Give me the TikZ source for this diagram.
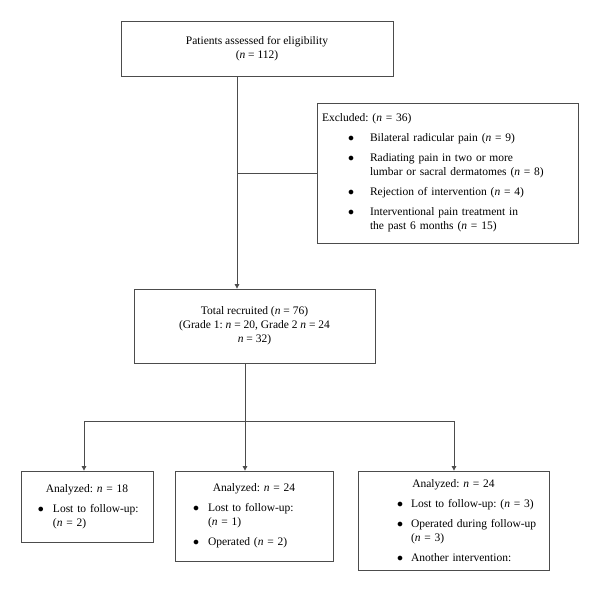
\documentclass[tikz,border=0pt]{standalone}
\usepackage{fontspec}
\setmainfont{Liberation Serif}
\usetikzlibrary{arrows.meta,positioning}

\newcommand{\nn}{\textit{n}}
\newlength{\bulin}
\newlength{\bulgap}
\newcommand{\bul}[1]{\par\vspace{6pt}\noindent\hangindent=\bulin\hangafter=0\llap{$\bullet$\hspace{\bulgap}}#1\par}

\begin{document}
\frenchspacing
\begin{tikzpicture}[x=1pt,y=-1pt,>={Triangle[length=4.5pt,width=4.5pt]},
    font=\fontsize{11.5}{14}\selectfont,
    conn/.style={draw=black!70,line width=0.8pt},
    box/.style={draw=black!70,line width=0.8pt,rectangle,inner xsep=0pt,inner ysep=0pt},
    listbox/.style={box,align=left}]
    \fill[white] (0,0) rectangle (600,592);
    \useasboundingbox (0,0) rectangle (600,592);
    % boxes
    \node[box,minimum width=272pt,minimum height=55pt,align=center] (assess) at (257,49)
        {Patients assessed for eligibility\\(\nn{} = 112)};
    \node[listbox,text width=261pt,minimum height=140pt] (excl) at (447.5,173)
        {\setlength{\bulin}{53pt}\setlength{\bulgap}{16pt}%
         \hspace*{5pt}Excluded: (\nn{} = 36)
         \bul{Bilateral radicular pain (\nn{} = 9)}
         \bul{Radiating pain in two or more\break lumbar or sacral dermatomes (\nn{} = 8)}
         \bul{Rejection of intervention (\nn{} = 4)}
         \bul{Interventional pain treatment in\break the past 6 months (\nn{} = 15)}};
    \node[box,minimum width=241pt,minimum height=74pt,align=center] (total) at (254.5,326)
        {Total recruited (\nn{} = 76)\\(Grade 1: \nn{} = 20, Grade 2 \nn{} = 24\\\nn{} = 32)};
    \node[listbox,text width=132pt,minimum height=71pt] (grpa) at (87,506.5)
        {\setlength{\bulin}{32pt}\setlength{\bulgap}{9pt}%
         {\centering Analyzed: \nn{} = 18\par}
         \bul{Lost to follow-up:\break (\nn{} = 2)}};
    \node[listbox,text width=158pt,minimum height=90pt] (grpb) at (254,516)
        {\setlength{\bulin}{33pt}\setlength{\bulgap}{9pt}%
         {\centering Analyzed: \nn{} = 24\par}
         \bul{Lost to follow-up:\break (\nn{} = 1)}
         \bul{Operated (\nn{} = 2)}};
    \node[listbox,text width=191pt,minimum height=99pt] (grpc) at (453.5,520.5)
        {\setlength{\bulin}{53pt}\setlength{\bulgap}{8pt}%
         {\centering Analyzed: \nn{} = 24\par}
         \bul{Lost to follow-up: (\nn{} = 3)}
         \bul{Operated during follow-up\break (\nn{} = 3)}
         \bul{Another intervention:}};
    % connectors
    \coordinate (spine) at (237,0);
    \coordinate (split) at (245,421);
    \coordinate (splita) at (84,421);
    \coordinate (splitc) at (454,421);
    \draw[conn,->] (assess.south -| spine) -- (total.north -| spine);
    \draw[conn] (spine |- excl.west) -- (excl.west);
    \draw[conn] (total.south -| split) -- (split);
    \draw[conn] (splita) -- (splitc);
    \draw[conn,->] (splita) -- (splita |- grpa.north);
    \draw[conn,->] (split) -- (split |- grpb.north);
    \draw[conn,->] (splitc) -- (splitc |- grpc.north);
\end{tikzpicture}
\end{document}
